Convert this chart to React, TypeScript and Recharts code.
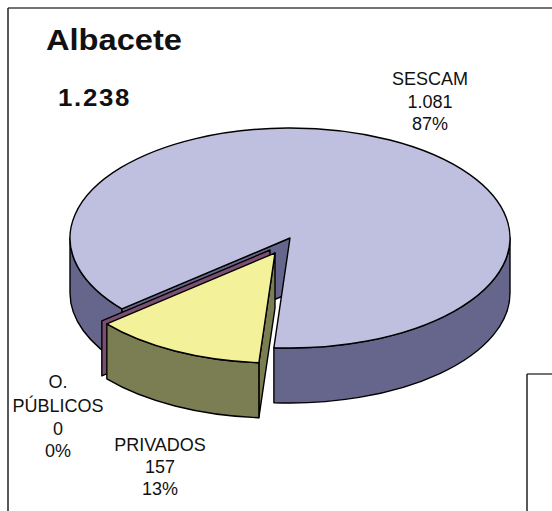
import React from 'react';
import { PieChart, Pie } from 'recharts';

const categories = ['SESCAM', 'O. PÚBLICOS', 'PRIVADOS'];
const values = [1081, 0, 157];
const percents = ['87%', '0%', '13%'];
const valueLabels = ['1.081', '0', '157'];
const title = 'Albacete';
const total = '1.238';

const pieData = categories.map((name, i) => ({ name, value: values[i] }));

const topColors: Record<string, string> = { SESCAM: '#BFBFDF', 'O. PÚBLICOS': '#7A4F72', PRIVADOS: '#F4F19B' };
const wallColors: Record<string, string> = { SESCAM: '#66668C', 'O. PÚBLICOS': '#7A4F72', PRIVADOS: '#7B7D52' };
const explode: Record<string, [number, number]> = { SESCAM: [0, 0], 'O. PÚBLICOS': [-20, 12], PRIVADOS: [-15, 15] };

const SQUASH = 0.5;
const DEPTH = 55;
const LINE = '#000';

const Slice3D = (props: any) => {
  const { cx, cy, outerRadius: r, startAngle, endAngle } = props;
  const name = props.name ?? props.payload?.name;
  const [ox, oy] = explode[name];
  const ry = r * SQUASH;
  const pt = (deg: number, drop = 0) => {
    const rad = (deg * Math.PI) / 180;
    return `${cx + ox + r * Math.cos(rad)} ${cy + oy + drop - ry * Math.sin(rad)}`;
  };
  const apex = `${cx + ox} ${cy + oy}`;
  const apexLow = `${cx + ox} ${cy + oy + DEPTH}`;

  // the part of the rim that faces the viewer
  const rims = [[180, 360], [540, 720]]
    .map(([a, b]) => [Math.max(a, startAngle), Math.min(b, endAngle)])
    .filter(([a, b]) => b > a);

  return (
    <g stroke={LINE} strokeWidth={1.4} strokeLinejoin="round">
      <path d={`M${apex} L${pt(endAngle)} L${pt(endAngle, DEPTH)} L${apexLow} Z`} fill={wallColors[name]} />
      {rims.map(([a, b]) => (
        <path
          key={a}
          d={`M${pt(a)} A${r} ${ry} 0 0 0 ${pt(b)} L${pt(b, DEPTH)} A${r} ${ry} 0 0 1 ${pt(a, DEPTH)} Z`}
          fill={wallColors[name]}
        />
      ))}
      {endAngle > startAngle && (
        <path
          d={`M${apex} L${pt(startAngle)} A${r} ${ry} 0 ${endAngle - startAngle > 180 ? 1 : 0} 0 ${pt(endAngle)} Z`}
          fill={topColors[name]}
        />
      )}
    </g>
  );
};

const labelStyle = { fontFamily: '"Liberation Sans", Arial, sans-serif', fontSize: 18, fill: '#111' };

const App = () => (
  <div style={{ position: 'absolute', left: 0, top: 0, width: 552, height: 511, background: '#fff', overflow: 'hidden' }}>
    <PieChart width={552} height={511} margin={{ top: 0, right: 0, bottom: 0, left: 0 }}>
      <line x1={8} y1={8} x2={552} y2={8} stroke="#444" strokeWidth={1.5} />
      <line x1={8} y1={8} x2={8} y2={511} stroke="#222" strokeWidth={1.5} />
      <line x1={527} y1={374} x2={552} y2={374} stroke="#444" strokeWidth={1.5} />
      <line x1={527} y1={374} x2={527} y2={511} stroke="#222" strokeWidth={1.5} />
      <Pie
        data={pieData}
        dataKey="value"
        nameKey="name"
        cx={290}
        cy={238}
        outerRadius={220}
        startAngle={265.8}
        endAngle={625.8}
        isAnimationActive={false}
        shape={Slice3D}
        label={false}
        labelLine={false}
      />
      <text x={46} y={50} textLength={136} lengthAdjust="spacingAndGlyphs" style={{ ...labelStyle, fontSize: 29, fontWeight: 700 }}>{title}</text>
      <text x={58} y={106} textLength={73} lengthAdjust="spacingAndGlyphs" style={{ ...labelStyle, fontSize: 23, fontWeight: 700, letterSpacing: 1.5 }}>{total}</text>
      <g textAnchor="middle" style={labelStyle}>
        <text x={430} y={85}>{categories[0]}</text>
        <text x={430} y={108}>{valueLabels[0]}</text>
        <text x={430} y={130}>{percents[0]}</text>
        <text x={58} y={388}>O.</text>
        <text x={58} y={412}>PÚBLICOS</text>
        <text x={58} y={435}>{valueLabels[1]}</text>
        <text x={58} y={457}>{percents[1]}</text>
        <text x={160} y={451}>{categories[2]}</text>
        <text x={160} y={473}>{valueLabels[2]}</text>
        <text x={160} y={495}>{percents[2]}</text>
      </g>
    </PieChart>
  </div>
);

export default App;
